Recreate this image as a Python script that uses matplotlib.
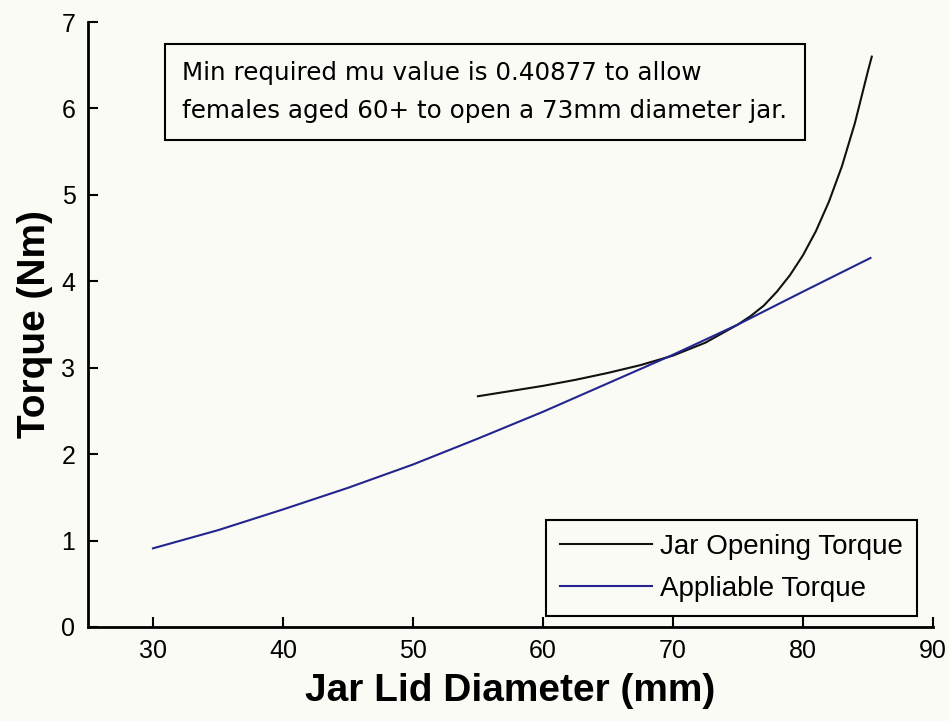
import matplotlib.pyplot as plt

# lid diameter (mm) vs torque (Nm)
applied_d = [30, 35, 40, 45, 50, 55, 60, 65, 70, 75, 80, 85.2]
applied_t = [0.91, 1.12, 1.36, 1.61, 1.88, 2.18, 2.49, 2.82, 3.15, 3.50, 3.88, 4.27]

opening_d = [55, 57.5, 60, 62.5, 65, 67.5, 70, 72.5, 75, 76, 77, 78, 79, 80, 81, 82, 83, 84, 85, 85.3]
opening_t = [2.67, 2.73, 2.79, 2.86, 2.94, 3.03, 3.14, 3.29, 3.50, 3.60, 3.72, 3.88, 4.07,
             4.30, 4.58, 4.92, 5.33, 5.83, 6.43, 6.60]

x_ticks = [30, 40, 50, 60, 70, 80, 90]
y_ticks = [0, 1, 2, 3, 4, 5, 6, 7]

note = 'Min required mu value is 0.40877 to allow\nfemales aged 60+ to open a 73mm diameter jar.'

plt.rcParams['font.family'] = ['Liberation Sans', 'DejaVu Sans']

bg = '#fbfbf6'
fig = plt.figure(figsize=(9.49, 7.21), dpi=100, facecolor=bg)
ax = fig.add_axes([0.0927, 0.1304, 0.8903, 0.839])
ax.set_facecolor(bg)

ax.plot(opening_d, opening_t, color='#111111', lw=1.5, label='Jar Opening Torque')
ax.plot(applied_d, applied_t, color='#24248f', lw=1.5, label='Appliable Torque')

ax.set_xlim(25, 90)
ax.set_ylim(0, 7)
ax.set_xticks(x_ticks)
ax.set_yticks(y_ticks)
ax.tick_params(direction='in', length=7, width=1.5, labelsize=18, pad=9)
for side in ['top', 'right']:
    ax.spines[side].set_visible(False)
for side in ['left', 'bottom']:
    ax.spines[side].set_linewidth(2)

ax.set_xlabel('Jar Lid Diameter (mm)', fontsize=28, fontweight='bold', labelpad=7)
ax.set_ylabel('Torque (Nm)', fontsize=28, fontweight='bold', labelpad=6)

ax.text(32.25, 6.19, note, fontsize=17.7, family='DejaVu Sans', va='center', ha='left',
        linespacing=1.7,
        bbox=dict(boxstyle='square,pad=0.72', facecolor=bg, edgecolor='black', linewidth=1.5))

leg = ax.legend(loc='lower right', bbox_to_anchor=(0.981, 0.018), borderaxespad=0,
                fontsize=20, fancybox=False, framealpha=1, facecolor=bg,
                edgecolor='black', handlelength=3.3, handletextpad=0.3, labelspacing=0.6,
                borderpad=0.5)
leg.get_frame().set_linewidth(1.5)

plt.savefig('out.png', dpi=100, facecolor=bg)
